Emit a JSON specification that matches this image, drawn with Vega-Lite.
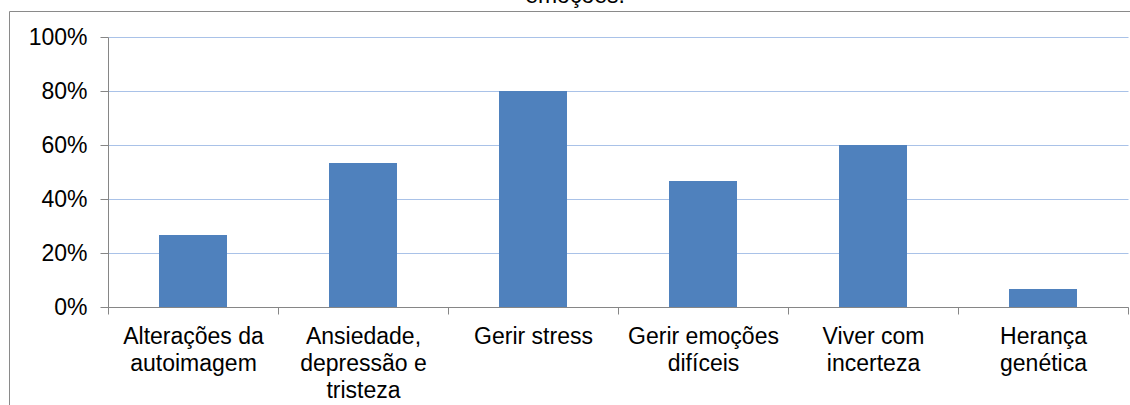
{
  "$schema": "https://vega.github.io/schema/vega-lite/v6.json",
  "autosize": "none",
  "width": 1132,
  "height": 400,
  "padding": {"left": 9, "top": 11, "right": 0, "bottom": 0},
  "background": "white",
  "title": {
    "text": "emoções.",
    "font": "Liberation Sans",
    "fontSize": 23,
    "fontWeight": "normal",
    "color": "black",
    "anchor": "middle",
    "frame": "group",
    "baseline": "alphabetic",
    "offset": 0,
    "dy": 15
  },
  "data": {
    "values": [
      {"categoria": "Alterações da\nautoimagem", "percentagem": 0.2667},
      {"categoria": "Ansiedade,\ndepressão e\ntristeza", "percentagem": 0.5333},
      {"categoria": "Gerir stress", "percentagem": 0.8},
      {"categoria": "Gerir emoções\ndifíceis", "percentagem": 0.4667},
      {"categoria": "Viver com\nincerteza", "percentagem": 0.6},
      {"categoria": "Herança\ngenética", "percentagem": 0.0667}
    ]
  },
  "mark": {"type": "bar", "color": "#4F81BD", "width": {"band": 0.4}},
  "encoding": {
    "x": {
      "field": "categoria",
      "type": "nominal",
      "sort": null,
      "scale": {"range": [99, 1119], "paddingInner": 0, "paddingOuter": 0},
      "axis": {
        "title": null,
        "offset": -104,
        "labelAngle": 0,
        "labelExpr": "split(datum.label, '\\n')",
        "labelLineHeight": 27,
        "labelFont": "Liberation Sans",
        "labelFontSize": 23,
        "labelColor": "black",
        "labelPadding": 11,
        "labelLimit": 0,
        "tickBand": "extent",
        "tickSize": 7,
        "tickColor": "#868686",
        "domainColor": "#868686",
        "grid": false
      }
    },
    "y": {
      "field": "percentagem",
      "type": "quantitative",
      "scale": {"domain": [0, 1], "range": [296, 26], "nice": false},
      "axis": {
        "title": null,
        "offset": -99,
        "values": [0, 0.2, 0.4, 0.6, 0.8, 1],
        "format": "0%",
        "labelFont": "Liberation Sans",
        "labelFontSize": 23,
        "labelColor": "black",
        "labelPadding": 13,
        "tickSize": 8,
        "tickColor": "#868686",
        "domainColor": "#868686",
        "grid": true,
        "gridColor": "#A9C2E8",
        "gridWidth": 1
      }
    }
  },
  "config": {
    "view": {"stroke": "#8A8A8A", "strokeWidth": 1}
  }
}
